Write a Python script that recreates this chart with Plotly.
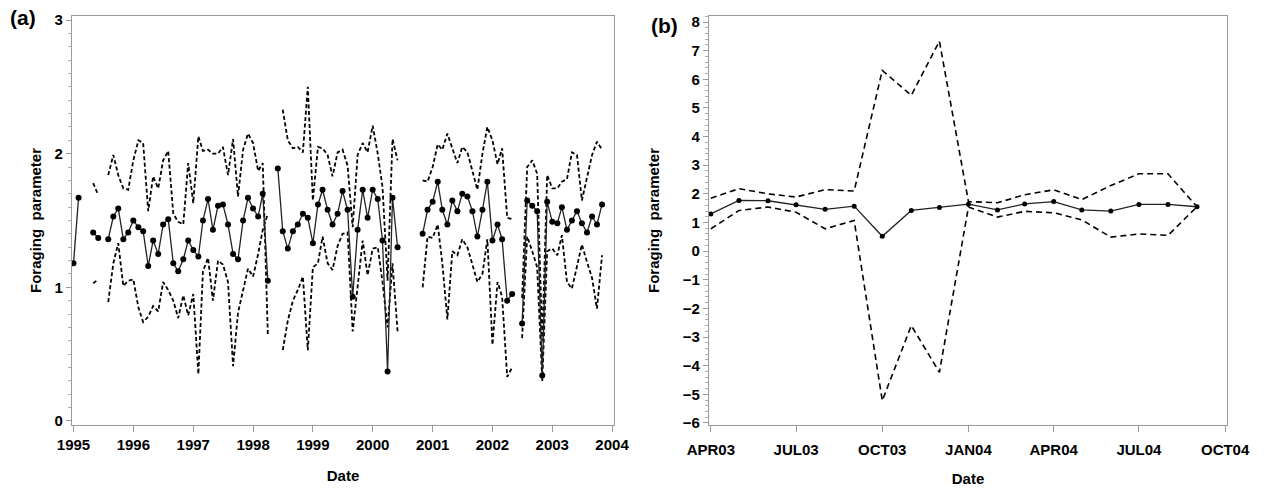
import plotly.graph_objects as go
import pandas as pd

# ---------- Panel (a) data: monthly, Jan 1995 .. Nov 2003 ----------
months_a = pd.date_range("1995-01-01", "2003-11-01", freq="MS").strftime("%Y-%m-%d").tolist()
N = None
mean_a = [1.18, 1.67, N, N, 1.41, 1.37, N, 1.36, 1.53, 1.59, 1.36, 1.41,
          1.50, 1.45, 1.42, 1.16, 1.35, 1.25, 1.47, 1.51, 1.18, 1.12, 1.21, 1.35,
          1.28, 1.23, 1.50, 1.66, 1.43, 1.61, 1.62, 1.47, 1.25, 1.21, 1.50, 1.67,
          1.59, 1.53, 1.70, 1.05, N, 1.89, 1.42, 1.29, 1.42, 1.47, 1.55, 1.52,
          1.33, 1.62, 1.73, 1.58, 1.47, 1.55, 1.72, 1.58, 0.93, 1.43, 1.73, 1.52,
          1.73, 1.66, 1.35, 0.37, 1.67, 1.30, N, N, N, N, 1.40, 1.58,
          1.64, 1.79, 1.58, 1.47, 1.65, 1.57, 1.70, 1.68, 1.57, 1.38, 1.58, 1.79,
          1.35, 1.47, 1.36, 0.90, 0.95, N, 0.73, 1.65, 1.61, 1.57, 0.34, 1.64,
          1.49, 1.48, 1.60, 1.43, 1.50, 1.57, 1.48, 1.41, 1.53, 1.47, 1.62]
upper_a = [N, N, N, N, 1.78, 1.69, N, 1.84, 1.99, 1.84, 1.74, 1.73,
           1.95, 2.10, 2.08, 1.57, 1.83, 1.74, 1.95, 2.02, 1.55, 1.49, 1.47, 1.93,
           1.63, 2.13, 2.02, 2.03, 2.00, 2.00, 2.05, 1.84, 2.11, 1.68, 2.03, 2.15,
           2.08, 1.87, 1.93, 0.65, N, N, 2.33, 2.10, 2.04, 2.05, 2.01, 2.50,
           1.65, 2.05, 2.04, 1.99, 1.83, 2.01, 2.03, 1.91, 1.45, 1.99, 2.08, 2.01,
           2.21, 2.00, 1.75, 1.05, 2.11, 1.95, N, N, N, N, 1.80, 1.79,
           1.90, 2.07, 2.03, 2.15, 2.04, 1.93, 2.05, 2.01, 1.87, 1.73, 2.00, 2.20,
           2.10, 1.92, 2.04, 1.52, 1.51, N, 0.92, 1.90, 1.95, 1.85, 0.60, 1.84,
           1.74, 1.74, 1.79, 1.81, 2.01, 1.99, 1.65, 1.81, 1.99, 2.09, 2.03]
lower_a = [N, N, N, N, 1.03, 1.06, N, 0.89, 1.18, 1.33, 1.01, 1.05,
           1.06, 0.85, 0.74, 0.78, 0.86, 0.82, 1.04, 0.98, 0.90, 0.77, 0.94, 0.79,
           0.95, 0.35, 1.12, 1.22, 0.90, 1.20, 1.17, 1.04, 0.41, 0.81, 0.99, 1.14,
           1.08, 1.25, 1.43, 1.55, N, N, 0.53, 0.75, 0.90, 0.98, 1.08, 0.53,
           1.15, 1.18, 1.38, 1.18, 1.13, 1.31, 1.40, 1.41, 0.67, 1.00, 1.35, 1.09,
           1.29, 1.30, 1.04, 0.70, 1.18, 0.67, N, N, N, N, 1.00, 1.38,
           1.37, 1.47, 1.18, 0.76, 1.27, 1.24, 1.36, 1.30, 1.17, 1.04, 1.10, 1.36,
           0.57, 1.04, 0.93, 0.33, 0.40, N, 0.62, 1.38, 1.27, 1.15, 0.30, 1.27,
           1.29, 1.24, 1.39, 1.04, 0.99, 1.17, 1.32, 1.19, 1.07, 0.84, 1.24]
year_ticks = [f"{y}-01-01" for y in range(1995, 2005)]
year_labels = [str(y) for y in range(1995, 2005)]

# ---------- Panel (b) data: monthly, Apr 2003 .. Sep 2004 ----------
months_b = pd.date_range("2003-04-01", "2004-09-01", freq="MS").strftime("%Y-%m-%d").tolist()
mean_b = [1.30, 1.77, 1.76, 1.62, 1.46, 1.57, 0.52, 1.42, 1.52,
          1.64, 1.44, 1.65, 1.73, 1.44, 1.40, 1.63, 1.63, 1.55]
upper_b = [1.85, 2.18, 2.00, 1.89, 2.15, 2.10, 6.31, 5.44, 7.33,
           1.73, 1.69, 1.97, 2.14, 1.80, 2.29, 2.70, 2.70, 1.55]
lower_b = [0.78, 1.42, 1.54, 1.36, 0.78, 1.07, -5.22, -2.60, -4.23,
           1.54, 1.19, 1.39, 1.34, 1.09, 0.49, 0.60, 0.55, 1.55]
q_ticks = ["2003-04-01", "2003-07-01", "2003-10-01", "2004-01-01",
           "2004-04-01", "2004-07-01", "2004-10-01"]
q_labels = ["APR03", "JUL03", "OCT03", "JAN04", "APR04", "JUL04", "OCT04"]

FONT = "Liberation Sans, Arial, sans-serif"
FRAME = "#9a9a9a"

fig = go.Figure()
for y in (upper_a, lower_a):
    fig.add_trace(go.Scatter(x=months_a, y=y, mode="lines",
                             line=dict(color="black", width=1.8, dash="4px,2.5px"),
                             connectgaps=False, showlegend=False))
fig.add_trace(go.Scatter(x=months_a, y=mean_a, mode="lines+markers",
                         line=dict(color="#222", width=1.3),
                         marker=dict(color="black", size=6),
                         connectgaps=False, showlegend=False))
for y in (upper_b, lower_b):
    fig.add_trace(go.Scatter(x=months_b, y=y, mode="lines", xaxis="x2", yaxis="y2",
                             line=dict(color="black", width=1.6, dash="6px,4px"),
                             showlegend=False))
fig.add_trace(go.Scatter(x=months_b, y=mean_b, mode="lines+markers", xaxis="x2", yaxis="y2",
                         line=dict(color="#222", width=1.3),
                         marker=dict(color="black", size=5),
                         showlegend=False))

tickfont = dict(family=FONT, size=15, color="black", weight="bold")
titlefont = dict(family=FONT, size=15, color="black", weight="bold")
ydom = [0.1397, 0.9676]

common_x = dict(showgrid=False, zeroline=False, showline=True, linecolor=FRAME,
                linewidth=1.2, mirror=True, ticks="outside", ticklen=6,
                tickcolor=FRAME, tickfont=tickfont, automargin=False)
common_y = dict(showgrid=False, zeroline=False, showline=True, linecolor=FRAME,
                linewidth=1.2, mirror=True, ticks="outside", ticklen=5,
                tickcolor=FRAME, tickfont=tickfont, automargin=False)

fig.update_layout(
    width=1266, height=494, margin=dict(l=0, r=0, t=0, b=0),
    plot_bgcolor="white", paper_bgcolor="white",
    xaxis=dict(domain=[0.0569, 0.485], type="date",
               range=["1994-12-23", "2004-01-13"],
               tickvals=year_ticks, ticktext=year_labels,
               title=dict(text="Date", font=titlefont, standoff=18),
               anchor="y", **common_x),
    yaxis=dict(domain=ydom, range=[-0.03, 3.03], dtick=1, tick0=0,
               minor=dict(dtick=0.1, ticks="outside", ticklen=2.5, tickcolor="#b0b0b0"),
               title=dict(text="Foraging  parameter", font=titlefont, standoff=9),
               anchor="x", **common_y),
    xaxis2=dict(domain=[0.5600, 0.9692], type="date",
                range=["2003-03-30", "2004-10-03"],
                tickvals=q_ticks, ticktext=q_labels, ticklabelstandoff=5,
                title=dict(text="Date", font=titlefont, standoff=16),
                anchor="y2", **common_x),
    yaxis2=dict(domain=ydom, range=[-6.07, 8.21], dtick=1, tick0=0,
                minor=dict(dtick=0.2, ticks="outside", ticklen=2.5, tickcolor="#b0b0b0"),
                title=dict(text="Foraging  parameter", font=titlefont, standoff=19),
                anchor="x2", **common_y),
    annotations=[
        dict(text="(a)", x=0.006, y=0.965, xref="paper", yref="paper",
             xanchor="left", yanchor="middle", showarrow=False,
             font=dict(family=FONT, size=21, color="black", weight="bold")),
        dict(text="(b)", x=0.513, y=0.948, xref="paper", yref="paper",
             xanchor="left", yanchor="middle", showarrow=False,
             font=dict(family=FONT, size=21, color="black", weight="bold")),
    ],
)

fig.write_html("out.html")
